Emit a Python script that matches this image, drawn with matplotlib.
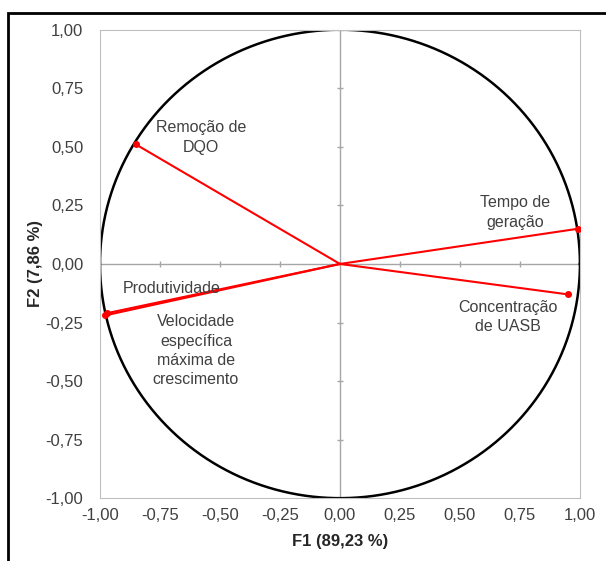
import numpy as np
import matplotlib
matplotlib.use("Agg")
import matplotlib.pyplot as plt
from matplotlib.patches import Rectangle

plt.rcParams['font.family'] = ['Liberation Sans', 'DejaVu Sans']

variables = ['Remoção de\nDQO', 'Tempo de\ngeração', 'Concentração\nde UASB',
             'Produtividade', 'Velocidade\nespecífica\nmáxima de\ncrescimento']
f1 = [-0.85, 0.99, 0.95, -0.97, -0.98]
f2 = [0.51, 0.15, -0.13, -0.21, -0.22]
label_pos = [(-0.58, 0.54), (0.73, 0.22), (0.70, -0.225), (-0.70, -0.105), (-0.60, -0.37)]
ticks = [-1.0, -0.75, -0.5, -0.25, 0.0, 0.25, 0.5, 0.75, 1.0]
tick_labels = ['{:.2f}'.format(t).replace('.', ',') for t in ticks]

fig = plt.figure(figsize=(6.06, 5.61), dpi=100)
ax = fig.add_axes([0.165, 0.112, 0.792, 0.835])

# unit circle
theta = np.linspace(0, 2 * np.pi, 400)
ax.plot(np.cos(theta), np.sin(theta), color='black', lw=1.8, zorder=2)

# zero lines with small tick marks
ax.axhline(0, color='#a6a6a6', lw=1, zorder=1)
ax.axvline(0, color='#a6a6a6', lw=1, zorder=1)
inner = [t for t in ticks if t != 0]
ax.plot(inner, [0] * len(inner), ls='none', marker='|', ms=5, color='#a6a6a6', zorder=1)
ax.plot([0] * len(inner), inner, ls='none', marker='_', ms=5, color='#a6a6a6', zorder=1)

# vectors
for x, y in zip(f1, f2):
    ax.plot([0, x], [0, y], color='red', lw=1.5, zorder=3)
ax.plot(f1, f2, ls='none', marker='o', ms=4, color='red', zorder=4)

for name, (lx, ly) in zip(variables, label_pos):
    ax.text(lx, ly, name, ha='center', va='center', fontsize=11.5,
            color='#404040', linespacing=1.35)

ax.set_xlim(-1, 1)
ax.set_ylim(-1, 1)
ax.set_xticks(ticks)
ax.set_xticklabels(tick_labels)
ax.set_yticks(ticks)
ax.set_yticklabels(tick_labels)
ax.tick_params(length=0, labelsize=12, colors='#404040')
ax.tick_params(axis='x', pad=7)
ax.tick_params(axis='y', pad=12)
for s in ax.spines.values():
    s.set_color('#bfbfbf')
ax.set_xlabel('F1 (89,23 %)', fontweight='bold', fontsize=12, labelpad=8, color='#262626')
ax.set_ylabel('F2 (7,86 %)', fontweight='bold', fontsize=12, labelpad=2, color='#262626')

# outer frame (cut on right and bottom)
fig.patches.append(Rectangle((0.0132, -0.05), 1.1, 1.027, transform=fig.transFigure,
                             fill=False, edgecolor='black', lw=2, clip_on=False))

fig.savefig('out.png', dpi=100)
